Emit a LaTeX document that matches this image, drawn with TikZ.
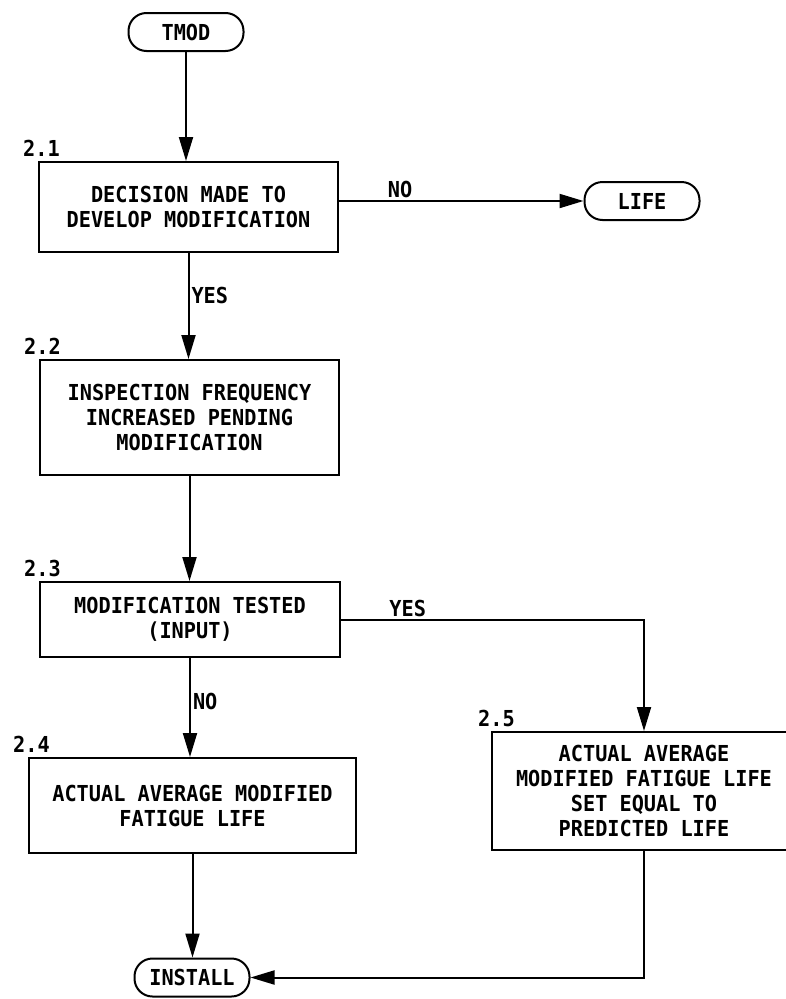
\documentclass[tikz,border=0pt]{standalone}
\usepackage{fontspec}
\newfontfamily\plotfont[FakeStretch=0.92]{DejaVu Sans Mono}
\usetikzlibrary{arrows.meta}
\begin{document}
\begin{tikzpicture}[x=1pt,y=-1pt,
  txt/.style={font={\plotfont\bfseries\fontsize{22}{25}\selectfont}},
  box/.style={txt, draw, line width=2pt, inner sep=0pt, align=center},
  term/.style={txt, draw, line width=2pt, rounded corners=18pt, minimum width=115pt, minimum height=38pt, inner sep=0pt},
  numlbl/.style={txt, inner sep=0pt, anchor=base west},
  elbl/.style={txt, inner sep=2pt},
  arr/.style={line width=2pt, -{Triangle[length=24pt,width=14pt]}},
  ln/.style={line width=2pt}]
\useasboundingbox (0,0) rectangle (786,999);

\node[term] (tmod) at (186,32) {TMOD};
\node[box, minimum width=299pt, minimum height=90pt] (b21) at (188.5,207) {DECISION MADE TO\\DEVELOP MODIFICATION};
\node[term] (life) at (642,201) {LIFE};
\node[box, minimum width=299pt, minimum height=115pt] (b22) at (189.5,417.5) {INSPECTION FREQUENCY\\INCREASED PENDING\\MODIFICATION};
\node[box, minimum width=300pt, minimum height=75pt] (b23) at (190,619.5) {MODIFICATION TESTED\\(INPUT)};
\node[box, minimum width=327pt, minimum height=95pt] (b24) at (192.5,805.5) {ACTUAL AVERAGE MODIFIED\\FATIGUE LIFE};
\node[box, minimum width=304pt, minimum height=118pt] (b25) at (644,791) {ACTUAL AVERAGE\\MODIFIED FATIGUE LIFE\\SET EQUAL TO\\PREDICTED LIFE};
\node[term] (install) at (192,977.5) {INSTALL};

\node[numlbl] (l21) at ([xshift=-15pt,yshift=5pt]b21.north west) {2.1};
\node[numlbl] (l22) at ([xshift=-15pt,yshift=5pt]b22.north west) {2.2};
\node[numlbl] (l23) at ([xshift=-15pt,yshift=5pt]b23.north west) {2.3};
\node[numlbl] (l24) at ([xshift=-15pt,yshift=5pt]b24.north west) {2.4};
\node[numlbl] (l25) at ([xshift=-13pt,yshift=5pt]b25.north west) {2.5};

\draw[arr] (tmod.south) -- (tmod.south |- b21.north);
\draw[arr] (b21.east |- life.west) -- (life.west) node[elbl, pos=0.25, above] {NO};
\draw[arr] (b21.south) -- (b21.south |- b22.north) node[elbl, pos=0.4, right] {YES};
\draw[arr] (b22.south) -- (b22.south |- b23.north);
\draw[arr] (b23.east) -| (b25.north) node[elbl, pos=0.11, above] {YES};
\draw[arr] (b23.south) -- (b23.south |- b24.north) node[elbl, pos=0.44, right] {NO};
\draw[arr] (b24.south) -- (b24.south |- install.north);
\draw[arr] (b25.south) |- (install.east);
\end{tikzpicture}
\end{document}
